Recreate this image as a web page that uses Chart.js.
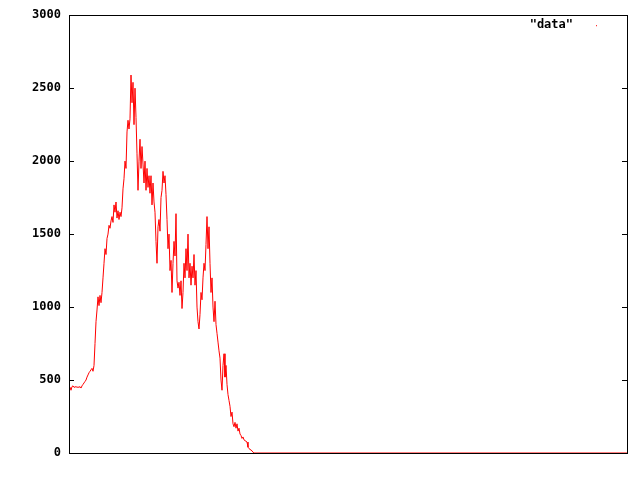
<!DOCTYPE html>
<html>
<head>
<meta charset="utf-8">
<script src="https://cdn.jsdelivr.net/npm/chart.js@4"></script>
<style>
    html, body { margin: 0; padding: 0; background: #fff; }
    canvas { display: block; }
</style>
</head>
<body>
<canvas id="chart" width="640" height="480"></canvas>
<script>
// Values, one sample per step along x
const values = [
    440, 450, 430, 455,
    460, 450, 452, 455, 450, 452, 450, 455,
    445, 460, 470, 480, 490, 500,
    520, 535, 550, 560, 570, 580, 560,
    600, 750, 900,
    980, 1070, 1010,
    1080, 1030, 1100,
    1200,
    1300, 1400, 1360, 1470,
    1500, 1560, 1540, 1590,
    1620, 1580, 1700, 1650, 1720,
    1610, 1660, 1600, 1650, 1620, 1680,
    1810, 1880, 2000, 1950,
    2200, 2280, 2220, 2290,
    2590, 2400,
    2540, 2250, 2500, 2300,
    2050, 1800, 2000,
    2150, 1950, 2100, 1980,
    1850, 2000, 1800, 1950, 1820, 1900, 1780,
    1900, 1700, 1850, 1720, 1650,
    1450, 1300, 1550,
    1600, 1520, 1750, 1800,
    1930, 1850, 1900, 1770,
    1600, 1400, 1500,
    1250, 1320, 1100,
    1300, 1450, 1350, 1640,
    1180, 1130, 1170,
    1080, 1180, 990, 1100,
    1300, 1200, 1400, 1250,
    1500, 1200, 1300,
    1150, 1280, 1200,
    1360, 1150, 1250,
    1000, 900, 850,
    950, 1100, 1050,
    1200, 1300, 1250, 1430,
    1620, 1400, 1550,
    1300, 1100, 1200,
    1000, 900, 1040, 880,
    820, 760, 700,
    650, 500, 430,
    600, 680, 520, 600,
    470, 400, 360,
    320, 250, 280,
    200, 180, 210, 170, 200,
    150, 170, 130, 120,
    100, 110, 90, 85, 80, 75,
    40, 30, 25, 20, 15,
    5, 0
];
const lastIndex = 558;   // series stays at zero until the end of the range
const yTicks = [0, 500, 1000, 1500, 2000, 2500, 3000];
const seriesName = '"data"';

const points = values.map((v, i) => ({ x: i, y: v }));
points.push({ x: lastIndex, y: 0 });

const FONT = 'bold 12px "DejaVu Sans Mono", "Liberation Mono", monospace';

// gnuplot-like frame, inner ticks and the key in the top right corner
const framePlugin = {
    id: 'frame',
    afterDraw(chart) {
        const ctx = chart.ctx;
        const a = chart.chartArea;
        const y = chart.scales.y;
        ctx.save();
        ctx.strokeStyle = '#000';
        ctx.lineWidth = 1;
        ctx.strokeRect(Math.round(a.left) + 0.5, Math.round(a.top) + 0.5,
            Math.round(a.right - a.left), Math.round(a.bottom - a.top));
        ctx.beginPath();
        yTicks.forEach(t => {
            const py = Math.round(y.getPixelForValue(t)) + 0.5;
            ctx.moveTo(a.left, py); ctx.lineTo(a.left + 5, py);
            ctx.moveTo(a.right - 5, py); ctx.lineTo(a.right, py);
        });
        ctx.stroke();

        ctx.font = FONT;
        ctx.fillStyle = '#000';
        ctx.textAlign = 'right';
        ctx.textBaseline = 'middle';
        ctx.fillText(seriesName, a.right - 54, a.top + 10);
        ctx.fillStyle = '#ff0000';
        ctx.fillRect(a.right - 31, a.top + 10, 1, 1);
        ctx.restore();
    }
};

new Chart(document.getElementById('chart').getContext('2d'), {
    type: 'scatter',
    data: {
        datasets: [{
            label: seriesName,
            data: points,
            showLine: true,
            borderColor: '#ff0000',
            borderWidth: 1,
            pointRadius: 0,
            tension: 0
        }]
    },
    options: {
        responsive: false,
        animation: false,
        layout: { padding: { left: 0, top: 13, right: 13, bottom: 27 } },
        plugins: {
            legend: { display: false },
            tooltip: { enabled: false }
        },
        scales: {
            x: {
                type: 'linear',
                min: 0,
                max: lastIndex,
                display: false
            },
            y: {
                min: 0,
                max: 3000,
                afterFit(scale) { scale.width = 69; },
                afterBuildTicks(scale) { scale.ticks = yTicks.map(v => ({ value: v })); },
                grid: { display: false, drawTicks: false },
                border: { display: false },
                ticks: {
                    padding: 8,
                    color: '#000',
                    callback: v => String(v),
                    font: { family: '"DejaVu Sans Mono", "Liberation Mono", monospace', size: 12, weight: 'bold' }
                }
            }
        }
    },
    plugins: [framePlugin]
});
</script>
</body>
</html>
